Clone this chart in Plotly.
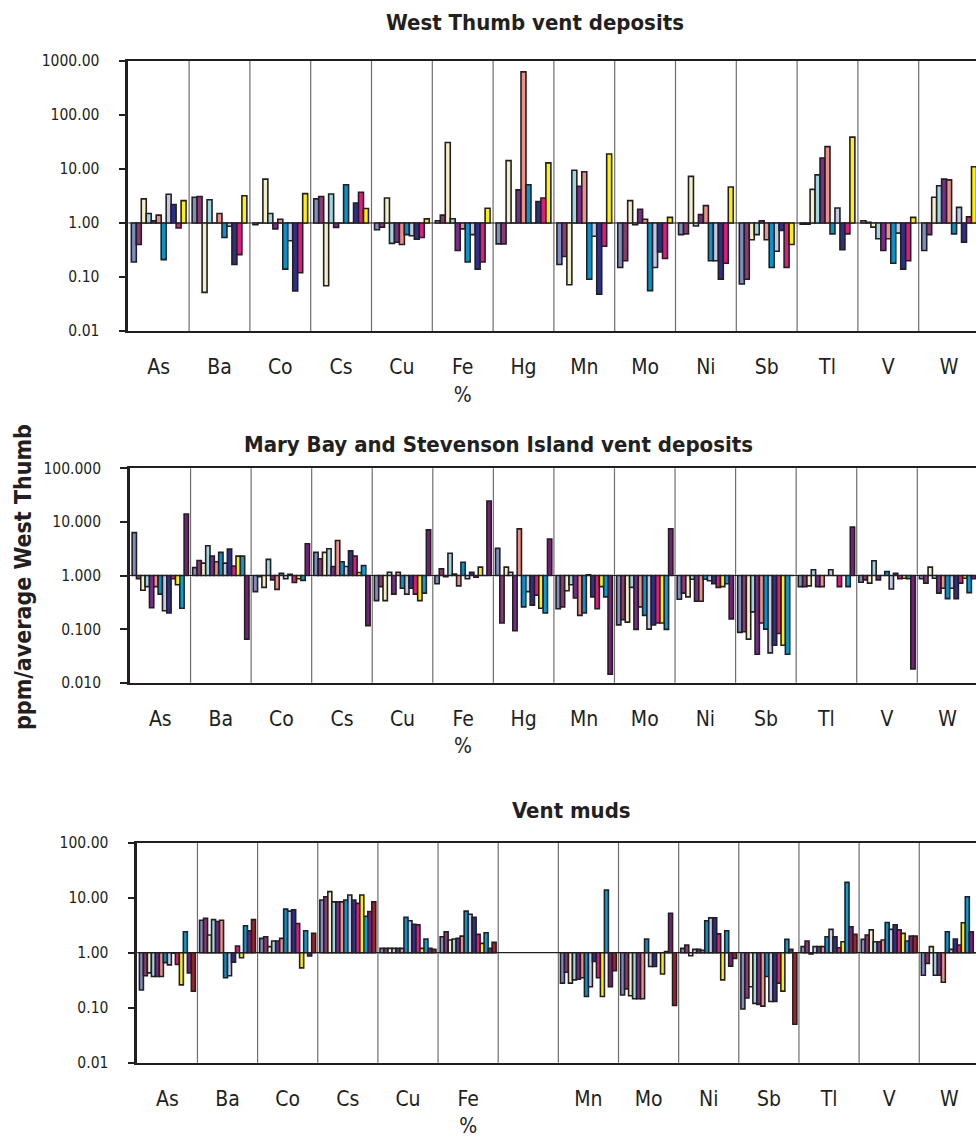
import plotly.graph_objects as go

# ---------------- categories / labels ----------------
elements = ["As", "Ba", "Co", "Cs", "Cu", "Fe", "Hg", "Mn", "Mo", "Ni", "Sb", "Tl", "V", "W"]
labels_wt = ["As", "Ba", "Co", "Cs", "Cu", "Fe<br>%", "Hg", "Mn", "Mo", "Ni", "Sb", "Tl", "V", "W"]
labels_mb = ["As", "Ba", "Co", "Cs", "Cu", "Fe<br>%", "Hg", "Mn", "Mo", "Ni", "Sb", "Tl", "V", "W"]
labels_vm = ["As", "Ba", "Co", "Cs", "Cu", "Fe<br>%", "", "Mn", "Mo", "Ni", "Sb", "Tl", "V", "W"]

ticks_wt = [0.01, 0.1, 1, 10, 100, 1000]
ticktext_wt = ["0.01", "0.10", "1.00", "10.00", "100.00", "1000.00"]
ticks_mb = [0.01, 0.1, 1, 10, 100]
ticktext_mb = ["0.010", "0.100", "1.000", "10.000", "100.000"]
ticks_vm = [0.01, 0.1, 1, 10, 100]
ticktext_vm = ["0.01", "0.10", "1.00", "10.00", "100.00"]

# ---------------- West Thumb vent deposits (11 samples) ----------------
wt_As = [0.19, 0.40, 2.8, 1.5, 1.1, 1.4, 0.21, 3.4, 2.2, 0.81, 2.6]
wt_Ba = [3.0, 3.1, 0.052, 2.7, 1.0, 1.5, 0.54, 0.87, 0.17, 0.26, 3.2]
wt_Co = [0.93, 1.0, 6.5, 1.5, 0.78, 1.17, 0.14, 0.47, 0.055, 0.12, 3.5]
wt_Cs = [2.8, 3.1, 0.069, 3.45, 0.83, 1.0, 5.1, 1.0, 2.35, 3.7, 1.85]
wt_Cu = [0.75, 0.84, 2.9, 0.42, 0.44, 0.40, 0.61, 0.58, 0.50, 0.54, 1.19]
wt_Fe = [1.1, 1.4, 31, 1.2, 0.31, 0.78, 0.19, 0.61, 0.14, 0.19, 1.87]
wt_Hg = [0.41, 0.41, 14.3, 1.0, 4.1, 630, 5.1, 1.0, 2.5, 2.9, 13]
wt_Mn = [0.17, 0.24, 0.072, 9.5, 4.8, 8.9, 0.091, 0.57, 0.048, 0.37, 19]
wt_Mo = [0.15, 0.20, 2.6, 0.93, 1.8, 1.17, 0.056, 0.15, 0.29, 0.22, 1.27]
wt_Ni = [0.61, 0.63, 7.3, 0.88, 1.43, 2.1, 0.20, 0.20, 0.091, 0.18, 4.65]
wt_Sb = [0.074, 0.091, 0.49, 0.61, 1.1, 0.49, 0.15, 0.30, 0.73, 0.15, 0.40]
wt_Tl = [0.95, 0.95, 4.2, 7.8, 16, 26, 0.63, 1.9, 0.32, 0.63, 39]
wt_V = [1.1, 1.03, 0.84, 0.51, 0.31, 0.51, 0.18, 0.65, 0.14, 0.20, 1.27]
wt_W = [0.31, 0.61, 3.0, 4.9, 6.5, 6.3, 0.63, 1.95, 0.44, 1.3, 11]

# ---------------- Mary Bay / Stevenson Island vent deposits (13 samples) ----------------
mb_As = [6.3, 0.87, 0.53, 0.62, 0.25, 0.62, 0.45, 0.22, 0.20, 0.87, 0.67, 0.245, 14]
mb_Ba = [1.4, 1.9, 1.7, 3.6, 2.3, 1.8, 2.7, 1.7, 3.1, 1.5, 2.3, 2.3, 0.065]
mb_Co = [0.50, 0.95, 0.60, 2.0, 0.83, 0.55, 1.1, 0.87, 1.05, 0.74, 0.87, 0.81, 3.9]
mb_Cs = [2.7, 2.05, 2.7, 3.15, 1.47, 4.5, 1.8, 1.47, 2.9, 2.3, 1.14, 1.54, 0.116]
mb_Cu = [0.34, 0.62, 0.34, 1.15, 0.45, 1.15, 0.58, 0.45, 0.58, 0.45, 0.34, 0.47, 7.1]
mb_Fe = [0.70, 1.33, 0.95, 2.6, 1.07, 0.64, 1.77, 0.87, 1.15, 0.93, 1.43, 1.0, 24.5]
mb_Hg = [3.2, 0.13, 1.43, 1.15, 0.093, 7.4, 0.26, 0.50, 0.28, 0.43, 0.245, 0.20, 4.8]
mb_Mn = [0.24, 0.26, 0.52, 0.67, 0.38, 0.18, 0.20, 1.03, 0.40, 0.24, 0.62, 0.40, 0.0144]
mb_Mo = [0.12, 0.15, 0.135, 0.60, 0.099, 0.26, 0.18, 0.10, 0.12, 0.13, 0.13, 0.099, 7.4]
mb_Ni = [0.36, 0.47, 0.40, 0.85, 0.33, 0.33, 0.85, 0.80, 0.70, 0.60, 0.62, 0.70, 0.155]
mb_Sb = [0.087, 0.089, 0.065, 0.21, 0.034, 0.13, 0.10, 0.036, 0.05, 0.083, 0.05, 0.034, 1.0]
mb_Tl = [0.62, 0.62, 0.64, 1.28, 0.62, 0.62, 1.0, 1.28, 1.0, 0.62, 1.0, 0.62, 8.0]
mb_V = [0.75, 0.83, 0.72, 1.88, 0.83, 1.0, 1.19, 0.56, 1.1, 0.87, 0.89, 0.87, 0.018]
mb_W = [0.87, 0.72, 1.43, 0.89, 0.47, 0.58, 0.37, 0.58, 0.37, 0.72, 0.89, 0.48, 0.87]

# ---------------- Vent muds (14 samples; no Hg) ----------------
vm_As = [0.21, 0.38, 0.43, 0.37, 0.37, 0.37, 0.66, 0.60, 0.98, 0.61, 0.26, 2.4, 0.43, 0.20]
vm_Ba = [3.9, 4.2, 2.1, 4.0, 3.7, 3.9, 0.35, 0.38, 0.67, 1.32, 0.81, 3.1, 2.5, 4.0]
vm_Co = [1.82, 1.95, 1.29, 1.63, 1.63, 1.82, 6.2, 5.7, 6.0, 3.4, 0.53, 2.5, 0.87, 2.25]
vm_Cs = [9.1, 10.4, 12.9, 8.4, 8.4, 8.4, 9.1, 11.2, 9.1, 7.9, 11.2, 4.6, 5.6, 8.4]
vm_Cu = [1.2, 1.2, 1.2, 1.2, 1.2, 1.2, 4.4, 3.8, 3.3, 3.2, 1.2, 1.77, 1.2, 1.15]
vm_Fe = [1.95, 2.4, 1.7, 1.77, 1.82, 2.0, 5.7, 5.0, 4.4, 2.15, 1.48, 2.3, 1.2, 1.54]
vm_Hg = [None] * 14
vm_Mn = [0.28, 0.44, 0.28, 0.32, 0.33, 0.35, 0.16, 0.24, 0.69, 0.35, 0.16, 13.8, 0.24, 0.47]
vm_Mo = [0.17, 0.22, 0.165, 0.145, 0.145, 0.145, 1.77, 0.56, 0.56, 1.0, 0.41, 1.05, 5.2, 0.11]
vm_Ni = [1.2, 1.38, 0.88, 1.15, 1.15, 1.1, 3.8, 4.3, 4.3, 2.2, 0.32, 2.5, 0.57, 0.79]
vm_Sb = [0.095, 0.15, 0.24, 0.12, 0.115, 0.107, 0.37, 0.13, 0.13, 0.28, 0.20, 1.75, 1.15, 0.05]
vm_Tl = [1.29, 1.63, 0.95, 1.29, 1.29, 1.29, 1.95, 2.65, 1.95, 1.23, 1.58, 19, 2.96, 2.15]
vm_V = [1.75, 2.1, 2.6, 1.58, 1.58, 1.7, 3.55, 2.65, 3.2, 2.6, 2.25, 1.63, 2.0, 2.0]
vm_W = [0.39, 0.64, 1.29, 0.39, 0.39, 0.29, 2.4, 1.15, 1.77, 1.38, 3.5, 10.4, 2.4, 1.0]

wt_rows = [wt_As, wt_Ba, wt_Co, wt_Cs, wt_Cu, wt_Fe, wt_Hg, wt_Mn, wt_Mo, wt_Ni, wt_Sb, wt_Tl, wt_V, wt_W]
mb_rows = [mb_As, mb_Ba, mb_Co, mb_Cs, mb_Cu, mb_Fe, mb_Hg, mb_Mn, mb_Mo, mb_Ni, mb_Sb, mb_Tl, mb_V, mb_W]
vm_rows = [vm_As, vm_Ba, vm_Co, vm_Cs, vm_Cu, vm_Fe, vm_Hg, vm_Mn, vm_Mo, vm_Ni, vm_Sb, vm_Tl, vm_V, vm_W]

# series colours (sample order)
colors = ["#7f8dc6", "#8d3a72", "#f3f0c8", "#9fd6e3", "#7a2c8e", "#ee8f88", "#0096d2",
          "#c3c9e9", "#2c2f8c", "#e31b80", "#fff200", "#00a2dc", "#7a1e7e", "#a3222a"]

OUTLINE = "#231f20"
FONT = "Liberation Sans Narrow, Arial Narrow, DejaVu Sans Condensed, Liberation Sans, sans-serif"

W_PX, H_PX = 976, 1138

panels = [
    # rows, labels, tickvals, ticktext, yrange(log), left px, top px, bottom px, group width, category px
    (wt_rows, labels_wt, ticks_wt, ticktext_wt, [-2, 3], 128.3, 61.0, 331.0, 0.90, 60.8),
    (mb_rows, labels_mb, ticks_mb, ticktext_mb, [-2, 2], 130.0, 468.3, 682.7, 0.93, 60.56),
    (vm_rows, labels_vm, ticks_vm, ticktext_vm, [-2, 2], 137.3, 842.7, 1062.7, 0.93, 60.15),
]

fig = go.Figure()
shapes = []
layout_axes = {}
xpos = list(range(len(elements)))

for p, (rows, labels, tv, tt, yr, left, top, bottom, gw, catw) in enumerate(panels):
    n = len(rows[0])
    bw = gw / n
    xa = "x" if p == 0 else f"x{p + 1}"
    ya = "y" if p == 0 else f"y{p + 1}"
    for i in range(n):
        vals = [row[i] for row in rows]
        xs = [xpos[k] for k, v in enumerate(vals) if v is not None]
        vs = [v for v in vals if v is not None]
        fig.add_trace(go.Bar(
            x=xs, y=[v - 1 for v in vs], base=[1] * len(vs),
            width=bw, offset=-gw / 2 + i * bw,
            marker=dict(color=colors[i], line=dict(color=OUTLINE, width=1.6)),
            xaxis=xa, yaxis=ya, showlegend=False, hoverinfo="skip",
        ))
    right = -0.5 + (W_PX - left) / catw
    xkey = "xaxis" if p == 0 else f"xaxis{p + 1}"
    ykey = "yaxis" if p == 0 else f"yaxis{p + 1}"
    layout_axes[xkey] = dict(
        domain=[left / W_PX, 1], range=[-0.5, right], anchor=ya, automargin=False,
        tickmode="array", tickvals=xpos, ticktext=labels,
        showgrid=False, zeroline=False, showline=True, mirror=True,
        linecolor=OUTLINE, linewidth=2.2, ticks="", ticklabelstandoff=16,
        tickfont=dict(family=FONT, size=21, color=OUTLINE),
    )
    layout_axes[ykey] = dict(
        domain=[1 - bottom / H_PX, 1 - top / H_PX], type="log", range=yr, anchor=xa,
        automargin=False,
        tickmode="array", tickvals=tv, ticktext=tt,
        showgrid=False, zeroline=False, showline=True, linecolor=OUTLINE, linewidth=2.6,
        ticks="outside", ticklen=7, tickwidth=1.5, tickcolor=OUTLINE, ticklabelstandoff=16,
        tickfont=dict(family=FONT, size=15.5, color=OUTLINE),
    )
    # category separators
    for k in range(len(elements) - 1):
        shapes.append(dict(type="line", xref=xa, yref=f"{ya} domain", x0=k + 0.5, x1=k + 0.5,
                           y0=0, y1=1, line=dict(color="#6e6e6e", width=1.2), layer="below"))
    # reference line at 1
    shapes.append(dict(type="line", xref=f"{xa} domain", yref=ya, x0=0, x1=1, y0=1, y1=1,
                       line=dict(color=OUTLINE, width=1.2), layer="below"))

annotations = [
    dict(text="<b>West Thumb vent deposits</b>", x=535 / W_PX, y=1 - 22.5 / H_PX),
    dict(text="<b>Mary Bay and Stevenson Island vent deposits</b>", x=498 / W_PX, y=1 - 444.5 / H_PX),
    dict(text="<b>Vent muds</b>", x=571 / W_PX, y=1 - 810 / H_PX),
]
for a in annotations:
    a.update(xref="paper", yref="paper", xanchor="center", yanchor="middle", showarrow=False,
             font=dict(family=FONT, size=22, color=OUTLINE))
annotations.append(dict(text="<b>ppm/average West Thumb</b>", x=23 / W_PX, y=1 - 577 / H_PX,
                        xref="paper", yref="paper", xanchor="center", yanchor="middle",
                        textangle=-90, showarrow=False,
                        font=dict(family=FONT, size=23, color=OUTLINE)))

fig.update_layout(
    width=W_PX, height=H_PX, margin=dict(l=0, r=0, t=0, b=0, autoexpand=False),
    paper_bgcolor="white", plot_bgcolor="white", barmode="overlay",
    shapes=shapes, annotations=annotations, **layout_axes,
)

fig.write_html("out.html", config={"displayModeBar": False},
               post_script="document.body.style.margin='0';document.body.style.overflow='hidden';")
